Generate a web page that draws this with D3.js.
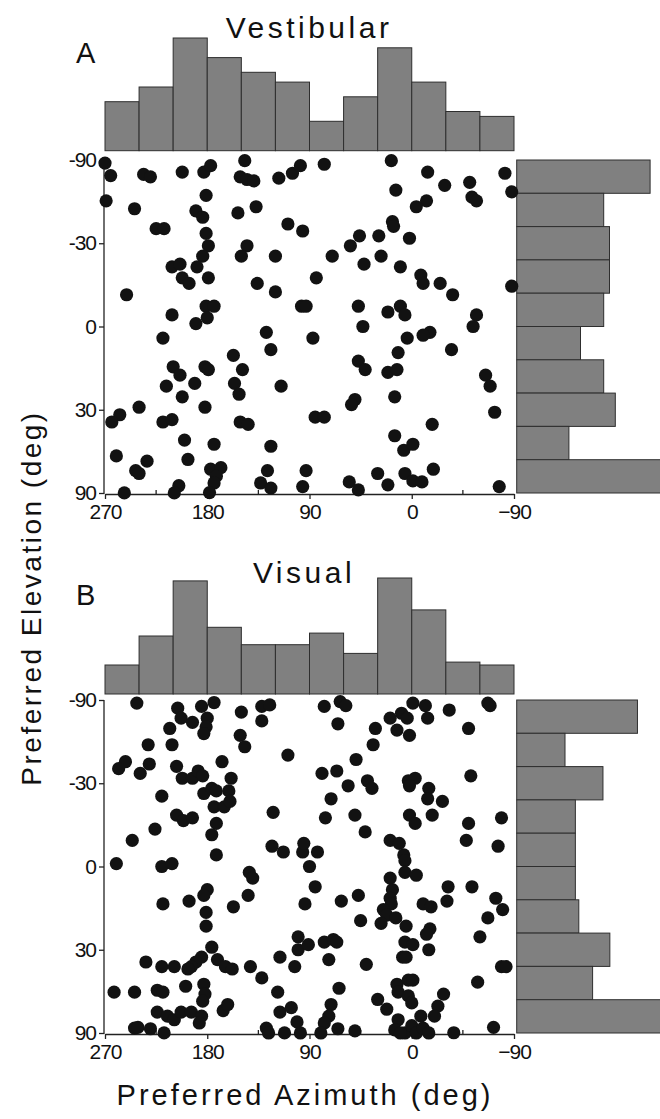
<!DOCTYPE html>
<html>
<head>
<meta charset="utf-8">
<script src="https://cdn.jsdelivr.net/npm/d3@7"></script>
<style>
  body { margin: 0; background: #fff; }
  svg { display: block; font-family: "Liberation Sans", Arial, sans-serif; }
</style>
</head>
<body>
<svg id="chart"></svg>
<script>
// ---- data ----
const azTicks = [270, 180, 90, 0, -90];
const azMinorTicks = [225, 135, 45, -45];
const elevTicks = [-90, -30, 0, 30, 90];
const azBinEdges = [270, 240, 210, 180, 150, 120, 90, 60, 30, 0, -30, -60, -90];

// counts per 30 deg azimuth bin (left to right) and per equal-area elevation bin (top to bottom)
const vestAzCounts = [10, 13, 23, 19, 16, 14, 6, 11, 21, 14, 8, 7];
const vestElCounts = [23, 15, 16, 16, 15, 11, 15, 17, 9, 25];
const visAzCounts = [10, 20, 39, 23, 17, 17, 21, 14, 40, 29, 11, 10];
const visElCounts = [35, 14, 25, 17, 17, 17, 18, 27, 22, 59];

// [azimuth, elevation] in deg
const vestibularPoints = [
  [270,-79],[265,-65],[269,-49],[236,-66],[230,-64],[244,-45],[225,-36],[218,-36],[202,-68],[183,-68],
  [177,-75],[181,-52],[190,-44],[184,-41],[147,-85],[151,-64],[145,-62],[139,-61],[117,-63],[105,-67],
  [98,-75],[137,-46],[153,-43],[181,-34],[179,-29],[184,-25],[189,-21],[211,-21],[204,-22],[202,-17],
  [196,-15],[179,-17],[145,-29],[150,-25],[120,-25],[109,-38],[96,-35],[136,-15],[120,-12],[251,-11],
  [211,-4],[190,-1],[181,-7],[174,-7],[180,-3],[97,-7],[93,-7],[128,2],[77,-77],[18,-85],
  [-14,-68],[14,-55],[-29,-58],[-51,-60],[-82,-67],[-88,-54],[-53,-51],[-57,-49],[-13,-49],[-4,-46],
  [17,-39],[16,-37],[46,-33],[29,-33],[54,-29],[2,-32],[70,-25],[27,-25],[42,-22],[10,-21],
  [-8,-18],[-10,-15],[-25,-15],[-36,-11],[-88,-14],[84,-17],[47,-7],[21,-5],[10,-7],[6,-4],
  [-57,-4],[-54,0],[43,0],[-16,2],[219,4],[124,8],[157,10],[210,14],[204,17],[182,14],
  [179,15],[191,20],[216,21],[149,15],[156,20],[152,24],[115,21],[202,25],[240,29],[182,29],
  [257,32],[264,35],[219,35],[211,34],[151,35],[144,36],[200,43],[174,45],[124,46],[260,51],
  [233,54],[243,60],[240,62],[197,53],[177,59],[168,58],[172,64],[174,70],[127,60],[93,60],
  [253,88],[205,73],[209,88],[178,86],[133,70],[124,76],[96,74],[87,4],[4,4],[-10,3],
  [-35,8],[12,9],[47,12],[41,15],[21,16],[13,15],[-65,17],[-69,21],[50,26],[53,28],
  [15,25],[85,33],[77,33],[-73,31],[-18,36],[15,41],[7,48],[-1,45],[30,62],[6,62],
  [-19,59],[55,69],[47,79],[21,72],[-1,68],[-9,69],[-77,74]
];

const visualPoints = [
  [242,-79],[206,-72],[203,-63],[193,-60],[185,-74],[174,-80],[180,-63],[181,-57],[183,-53],[213,-56],
  [150,-68],[151,-52],[147,-46],[132,-74],[125,-76],[132,-61],[232,-47],[211,-47],[252,-39],[258,-36],
  [231,-38],[239,-34],[207,-37],[202,-32],[193,-32],[188,-35],[184,-33],[167,-39],[159,-32],[109,-42],
  [220,-25],[183,-26],[176,-28],[172,-27],[161,-27],[174,-21],[165,-21],[160,-23],[207,-18],[201,-16],
  [193,-17],[172,-15],[176,-11],[226,-13],[246,-9],[122,-19],[123,-7],[113,-5],[96,-5],[95,-8],
  [172,-4],[260,-1],[220,0],[211,-1],[143,2],[90,0],[63,-82],[58,-75],[77,-74],[65,-59],
  [32,-56],[34,-47],[19,-63],[9,-67],[4,-63],[13,-55],[2,-52],[-1,-79],[-12,-75],[-14,-63],
  [-33,-70],[-50,-56],[-67,-79],[-69,-75],[49,-40],[79,-34],[66,-35],[56,-29],[39,-31],[35,-28],
  [3,-31],[-3,-32],[2,-29],[-15,-28],[-14,-24],[-27,-23],[-52,-33],[71,-24],[76,-17],[50,-18],
  [41,-12],[2,-18],[-3,-15],[-18,-18],[-50,-15],[-79,-17],[-48,-9],[-76,-7],[83,-5],[19,-9],
  [11,-8],[7,-4],[6,-2],[6,2],[140,4],[180,8],[183,10],[219,13],[196,12],[144,10],
  [157,14],[181,16],[181,21],[176,29],[185,33],[190,35],[194,37],[197,38],[171,34],[164,37],
  [158,38],[142,37],[132,42],[116,33],[234,35],[220,37],[209,37],[199,46],[262,49],[244,49],
  [224,48],[219,49],[183,45],[182,50],[184,54],[166,60],[162,56],[118,49],[224,61],[215,64],
  [209,67],[203,61],[194,61],[185,64],[187,70],[244,76],[241,75],[230,77],[218,88],[128,76],
  [126,89],[112,88],[116,61],[106,58],[101,69],[98,89],[103,37],[100,30],[100,25],[94,13],
  [-4,3],[85,7],[19,4],[17,8],[19,11],[18,13],[25,15],[22,17],[27,20],[14,18],
  [5,21],[47,10],[62,12],[45,19],[-32,7],[-53,7],[-31,12],[-10,13],[-17,14],[-74,11],
  [-80,15],[-67,18],[-16,22],[-13,24],[-60,25],[6,27],[-1,28],[-15,30],[8,33],[5,33],
  [91,28],[77,27],[69,26],[66,27],[73,34],[40,36],[-79,37],[-83,37],[-58,44],[13,45],
  [3,43],[-1,43],[12,49],[3,51],[0,55],[64,47],[-28,50],[-23,57],[-20,64],[-8,64],
  [30,53],[22,59],[12,67],[71,56],[73,64],[77,70],[65,77],[80,89],[50,81],[6,89],
  [0,73],[-4,89],[-10,76],[-15,89],[-37,87],[-72,75],[15,79],[10,89]
];

// ---- layout ----
const W = 660, H = 1119;
const xLeft = 105, xRight = 514;
const sideX = 516.7;

const panels = [
  { title: "Vestibular", letter: "A", points: vestibularPoints, azCounts: vestAzCounts, elCounts: vestElCounts,
    top: 160, bottom: 493, histBase: 150.7, histUnit: 4.9, sideUnit: 5.8,
    titleX: 309, titleY: 38, letterY: 63 },
  { title: "Visual", letter: "B", points: visualPoints, azCounts: visAzCounts, elCounts: visElCounts,
    top: 700, bottom: 1033, histBase: 694, histUnit: 2.9, sideUnit: 3.45,
    titleX: 304, titleY: 583, letterY: 605 }
];

const svg = d3.select("#chart").attr("width", W).attr("height", H);

const x = d3.scaleLinear().domain([270, -90]).range([xLeft, xRight]);
const toSin = e => Math.sin(e * Math.PI / 180);

panels.forEach(function (p) {
  const g = svg.append("g");
  const ySin = d3.scaleLinear().domain([-1, 1]).range([p.top, p.bottom]);
  const hTop = d3.scaleLinear().domain([0, 10]).range([0, 10 * p.histUnit]);
  const hSide = d3.scaleLinear().domain([0, 10]).range([0, 10 * p.sideUnit]);

  // top histogram (azimuth)
  g.append("g").selectAll("rect")
    .data(p.azCounts)
    .enter().append("rect")
    .attr("x", (d, i) => x(azBinEdges[i]))
    .attr("width", (d, i) => x(azBinEdges[i + 1]) - x(azBinEdges[i]))
    .attr("y", d => p.histBase - hTop(d))
    .attr("height", d => hTop(d))
    .style("fill", "#808080")
    .style("stroke", "#2e2e2e")
    .style("stroke-width", 1);

  // side histogram (elevation, equal-area bins)
  const nb = p.elCounts.length;
  g.append("g").selectAll("rect")
    .data(p.elCounts)
    .enter().append("rect")
    .attr("x", sideX)
    .attr("y", (d, i) => ySin(-1 + 2 * i / nb))
    .attr("height", (d, i) => ySin(-1 + 2 * (i + 1) / nb) - ySin(-1 + 2 * i / nb))
    .attr("width", d => hSide(d))
    .style("fill", "#808080")
    .style("stroke", "#2e2e2e")
    .style("stroke-width", 1);

  // axes
  const yAxis = d3.axisLeft(ySin)
    .tickValues(elevTicks.map(toSin))
    .tickFormat((d, i) => elevTicks[i])
    .tickSize(5).tickSizeOuter(0).tickPadding(3);
  const ya = g.append("g").attr("transform", "translate(" + (xLeft - 1) + ",0)").call(yAxis);

  const xAxis = d3.axisBottom(x)
    .tickValues(azTicks)
    .tickSize(5).tickSizeOuter(0).tickPadding(5);
  const xa = g.append("g").attr("transform", "translate(0," + (p.bottom + 1) + ")").call(xAxis);

  [ya, xa].forEach(function (a) {
    a.select(".domain").style("stroke", "#222").style("stroke-width", 1.3);
    a.selectAll(".tick line").style("stroke", "#222").style("stroke-width", 1.3);
    a.selectAll("text")
      .style("font-family", "'Liberation Sans', Arial, sans-serif")
      .style("font-size", "21px")
      .style("letter-spacing", "-1px")
      .style("fill", "#111");
  });
  ya.select(".domain").attr("d", "M0," + p.top + "V" + (p.bottom + 1));

  xa.selectAll(".minor")
    .data(azMinorTicks)
    .enter().append("line")
    .attr("class", "minor")
    .attr("x1", d => x(d)).attr("x2", d => x(d))
    .attr("y1", 0).attr("y2", -4)
    .style("stroke", "#222").style("stroke-width", 1.3);

  // dots
  g.append("g").selectAll("circle")
    .data(p.points)
    .enter().append("circle")
    .attr("cx", d => x(d[0]))
    .attr("cy", d => ySin(toSin(d[1])))
    .attr("r", 6.6)
    .style("fill", "#121212");

  // titles
  g.append("text")
    .attr("x", p.titleX).attr("y", p.titleY)
    .attr("text-anchor", "middle")
    .style("font-size", "30px")
    .style("letter-spacing", "3.5px")
    .style("fill", "#111")
    .text(p.title);

  g.append("text")
    .attr("x", 76).attr("y", p.letterY)
    .style("font-size", "29px")
    .style("fill", "#111")
    .text(p.letter);
});

svg.append("text")
  .attr("transform", "translate(41,598) rotate(-90)")
  .attr("text-anchor", "middle")
  .style("font-size", "28px")
  .style("letter-spacing", "2.5px")
  .style("fill", "#111")
  .text("Preferred Elevation (deg)");

svg.append("text")
  .attr("x", 305).attr("y", 1105)
  .attr("text-anchor", "middle")
  .style("font-size", "29px")
  .style("letter-spacing", "3px")
  .style("fill", "#111")
  .text("Preferred Azimuth (deg)");
</script>
</body>
</html>
